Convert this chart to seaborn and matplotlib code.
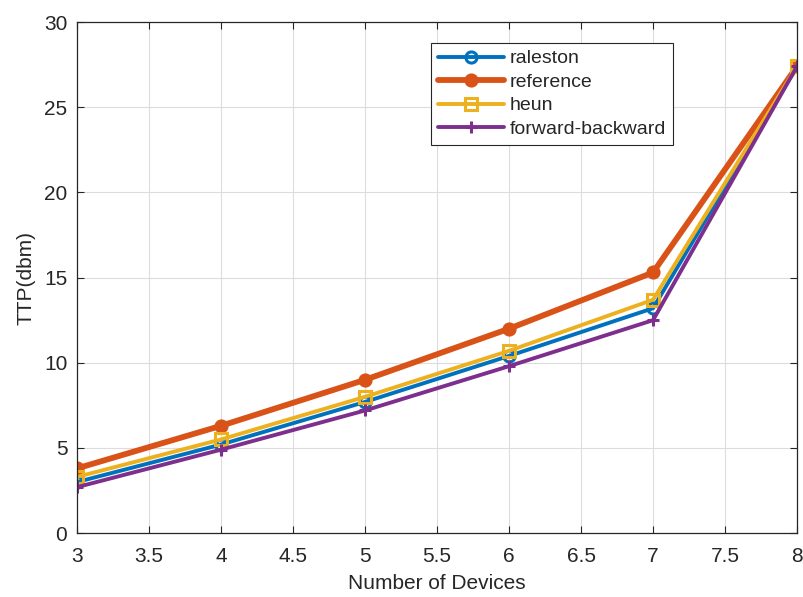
import pandas as pd
import matplotlib
matplotlib.use("Agg")
import matplotlib.pyplot as plt
import seaborn as sns

# valores
devices = [3, 4, 5, 6, 7, 8]
raleston = [3.0, 5.2, 7.7, 10.4, 13.2, 27.4]
reference = [3.8, 6.3, 9.0, 12.0, 15.3, 27.4]
heun = [3.3, 5.5, 8.0, 10.7, 13.7, 27.4]
forward_backward = [2.7, 4.9, 7.2, 9.8, 12.5, 27.4]

series_names = ["raleston", "reference", "heun", "forward-backward"]
series_vals = [raleston, reference, heun, forward_backward]

rows = []
for name, vals in zip(series_names, series_vals):
    for d, v in zip(devices, vals):
        rows.append((name, d, v))
df = pd.DataFrame(rows, columns=["method", "devices", "ttp"])

sns.set_style("whitegrid")
plt.rcParams['font.family'] = ['Liberation Sans', 'DejaVu Sans']

colors = {"raleston": "#0072BD", "reference": "#D95319",
          "heun": "#EDB120", "forward-backward": "#7E2F8E"}
markers = {"raleston": "o", "reference": "o", "heun": "s", "forward-backward": "+"}
widths = {"raleston": 2.8, "reference": 4.2, "heun": 2.8, "forward-backward": 2.8}

fig = plt.figure(figsize=(8.04, 5.97), dpi=100)
ax = fig.add_axes([0.0958, 0.107, 0.8955, 0.856])

for name in series_names:
    sub = df[df["method"] == name]
    filled = name == "reference"
    sns.lineplot(data=sub, x="devices", y="ttp", ax=ax, color=colors[name],
                 linewidth=widths[name], marker=markers[name], markersize=8,
                 markerfacecolor=colors[name] if filled else "none",
                 markeredgecolor=colors[name], markeredgewidth=2.2,
                 label=name)

ax.set_xlim(3, 8)
ax.set_ylim(0, 30)
ax.set_xticks([3, 3.5, 4, 4.5, 5, 5.5, 6, 6.5, 7, 7.5, 8])
ax.set_xticklabels(["3", "3.5", "4", "4.5", "5", "5.5", "6", "6.5", "7", "7.5", "8"])
ax.set_yticks([0, 5, 10, 15, 20, 25, 30])
ax.grid(True, color="#dcdcdc", linewidth=0.8)
for sp in ax.spines.values():
    sp.set_visible(True)
    sp.set_color("#262626")
    sp.set_linewidth(0.9)
ax.tick_params(direction="in", length=5, labelsize=15, colors="#262626",
               bottom=True, left=True, top=True, right=True,
               labeltop=False, labelright=False)
ax.tick_params(axis="x", pad=10)
ax.tick_params(axis="y", pad=7)
ax.set_xlabel("Number of Devices", fontsize=15, color="#262626", labelpad=6)
ax.set_ylabel("TTP(dbm)", fontsize=15, color="#262626", labelpad=6)

leg = ax.legend(loc="upper left", bbox_to_anchor=(0.492, 0.959), fontsize=14,
                frameon=True, fancybox=False, framealpha=1, edgecolor="#262626",
                handlelength=3.4, handletextpad=0.3, borderpad=0.35,
                labelspacing=0.3, borderaxespad=0)
leg.get_frame().set_linewidth(0.8)

plt.savefig("out.png", dpi=100)
